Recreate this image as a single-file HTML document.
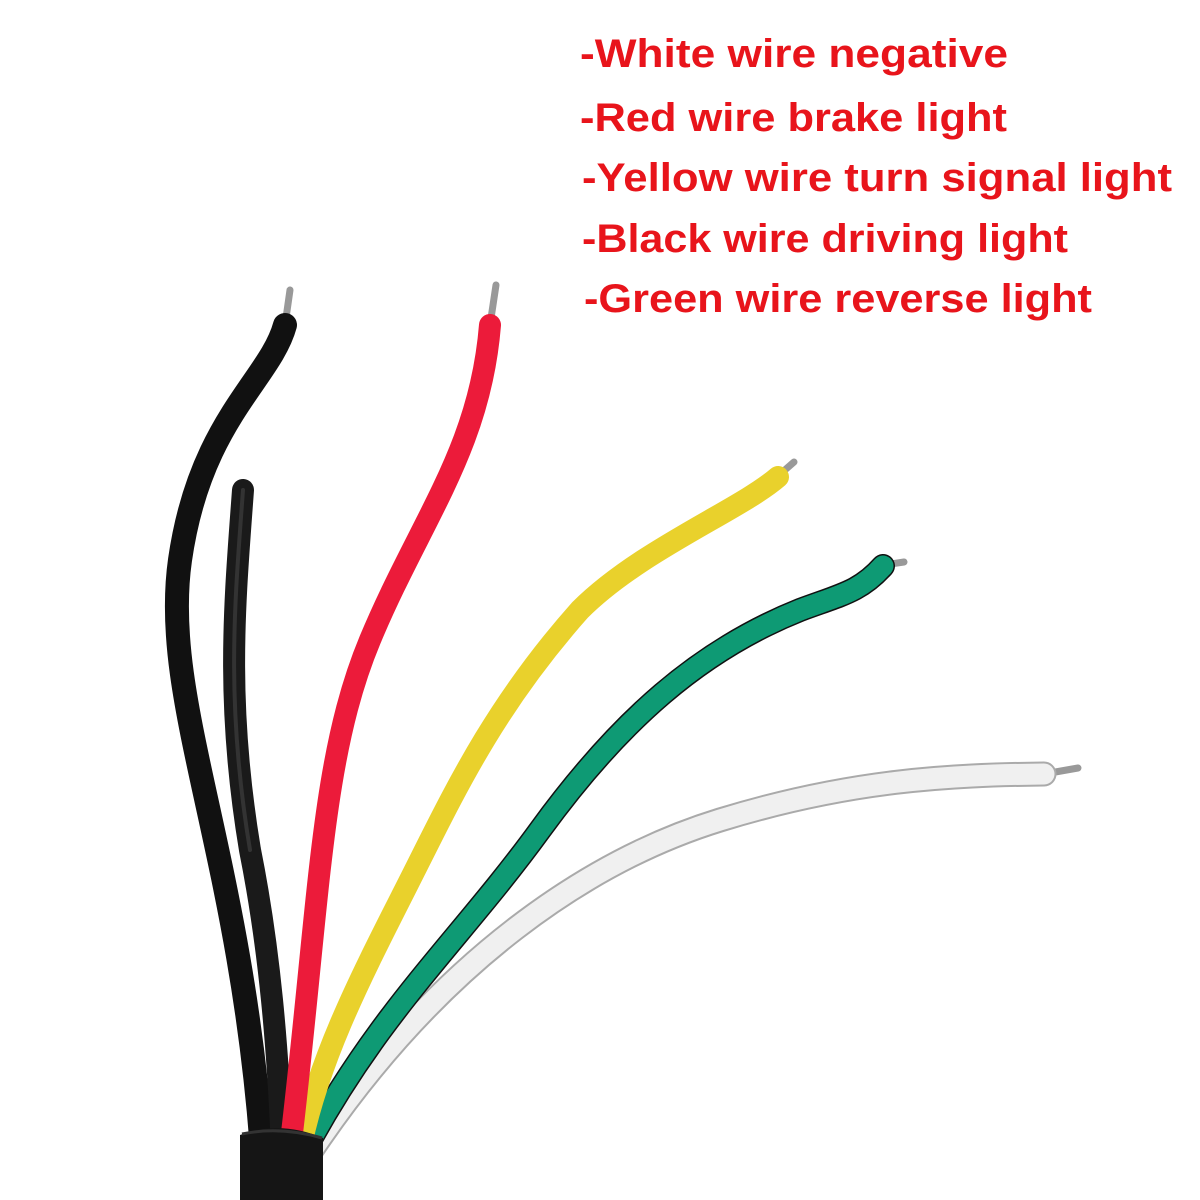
<!DOCTYPE html>
<html><head><style>
html,body{margin:0;padding:0;background:#fff;}
svg{display:block}
</style></head><body>
<svg width="1200" height="1200" viewBox="0 0 1200 1200" xmlns="http://www.w3.org/2000/svg">
<rect width="1200" height="1200" fill="#fff"/>
<g font-family="Liberation Sans, sans-serif" font-weight="bold" font-size="40" fill="#e8141b" lengthAdjust="spacingAndGlyphs">
<text x="580" y="67" textLength="428" lengthAdjust="spacingAndGlyphs">-White wire negative</text>
<text x="580" y="131" textLength="427" lengthAdjust="spacingAndGlyphs">-Red wire brake light</text>
<text x="582" y="191" textLength="590" lengthAdjust="spacingAndGlyphs">-Yellow wire turn signal light</text>
<text x="582" y="252" textLength="486" lengthAdjust="spacingAndGlyphs">-Black wire driving light</text>
<text x="584" y="312" textLength="508" lengthAdjust="spacingAndGlyphs">-Green wire reverse light</text>
</g>
<g fill="none" stroke-linecap="round">
<g stroke="#999" stroke-width="7">
<line x1="285" y1="325" x2="290" y2="290"/>
<line x1="490" y1="325" x2="496" y2="285"/>
<line x1="778" y1="476" x2="794" y2="462"/>
<line x1="884" y1="565" x2="904" y2="562"/>
<line x1="1044" y1="774" x2="1078" y2="768"/>
</g>
<path d="M285,325 C270,380 200,420 180,560 C160,700 240,850 262,1150" stroke="#111" stroke-width="24"/>
<path d="M243,490 C235,600 225,700 250,850 C270,950 278,1050 282,1150" stroke="#1a1a1a" stroke-width="22"/>
<path d="M243,490 C235,600 225,700 250,850" stroke="#333" stroke-width="4"/>
<path d="M1044,774 C950,775 850,780 720,820 C590,860 440,960 312,1150" stroke="#aaa" stroke-width="25"/>
<path d="M1044,774 C950,775 850,780 720,820 C590,860 440,960 312,1150" stroke="#f0f0f0" stroke-width="21"/>
<path d="M883,566 C860,592 840,595 800,610 C700,650 620,720 540,830 C460,940 380,1010 305,1150" stroke="#111" stroke-width="24"/>
<path d="M883,566 C860,592 840,595 800,610 C700,650 620,720 540,830 C460,940 380,1010 305,1150" stroke="#0e9a74" stroke-width="21"/>
<path d="M778,477 C740,510 640,550 580,610 C500,700 460,780 420,860 C370,960 320,1050 300,1150" stroke="#e9d12c" stroke-width="22"/>
<path d="M490,325 C480,450 420,520 370,640 C320,760 320,900 290,1150" stroke="#ec1b3a" stroke-width="22"/>
</g>
<path d="M240,1135 Q280,1120 323,1138 L323,1200 L240,1200 Z" fill="#151515"/>
<path d="M242,1134 Q280,1126 322,1138" stroke="#333" stroke-width="3" fill="none"/>
</svg>
</body></html>
